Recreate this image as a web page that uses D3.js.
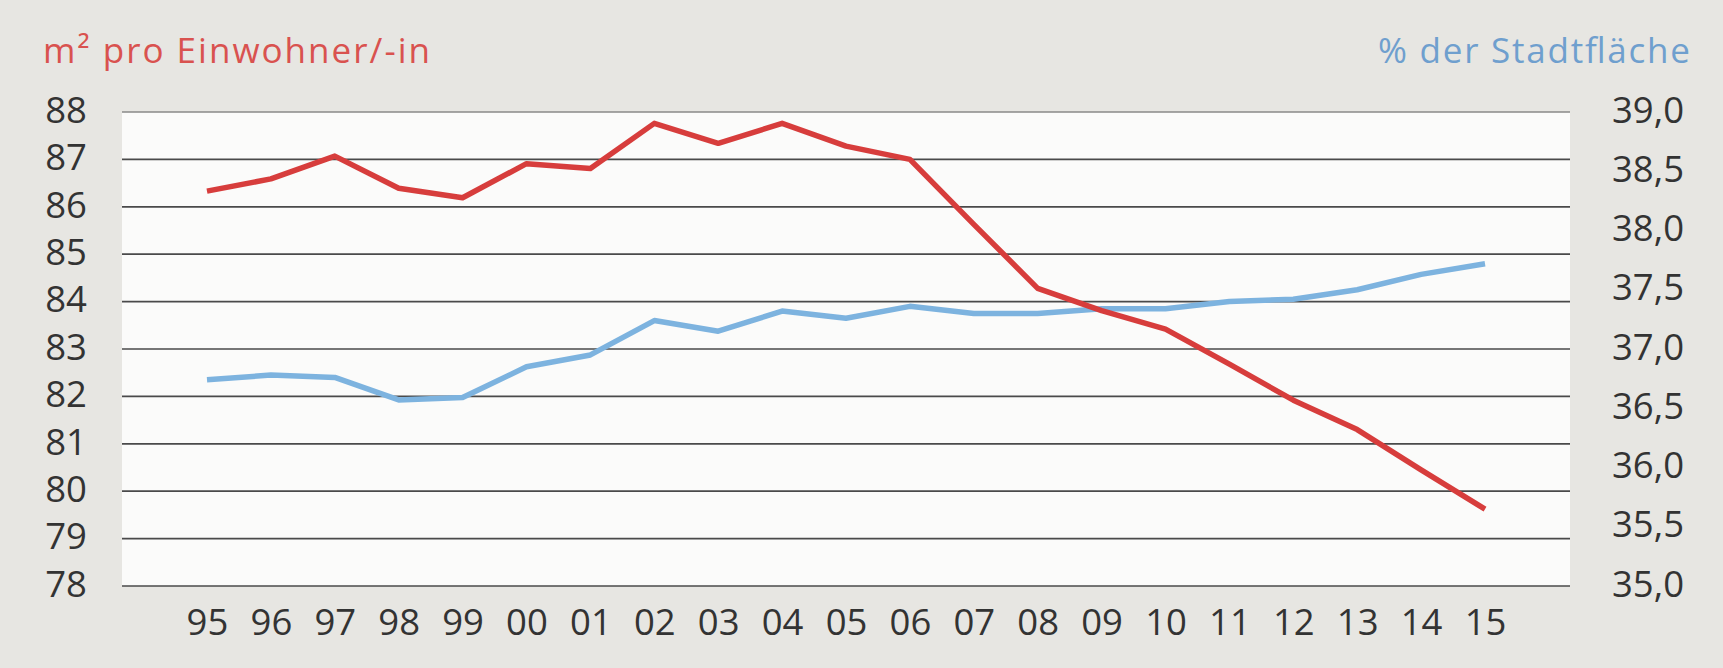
<!DOCTYPE html>
<html><head><meta charset="utf-8">
<script src="https://cdn.jsdelivr.net/npm/d3@7"></script>
<style>
html,body{margin:0;padding:0;background:#e7e6e2;}
svg{display:block;}
text{font-family:"Open Sans",sans-serif;}
</style></head>
<body><div id="chart"></div>
<script>
const years = ["95","96","97","98","99","00","01","02","03","04","05","06","07","08","09","10","11","12","13","14","15"];
const m2PerResident = [86.33,86.59,87.07,86.39,86.19,86.91,86.81,87.76,87.34,87.76,87.28,87.0,85.63,84.28,83.81,83.42,82.68,81.92,81.3,80.45,79.62];
const pctCityArea = [36.74,36.78,36.76,36.57,36.59,36.85,36.95,37.24,37.15,37.32,37.26,37.36,37.30,37.30,37.34,37.34,37.40,37.42,37.50,37.63,37.72];
const leftTicks = [78,79,80,81,82,83,84,85,86,87,88];
const rightTicks = [35.0,35.5,36.0,36.5,37.0,37.5,38.0,38.5,39.0];
const leftTitle = "m² pro Einwohner/-in";
const rightTitle = "% der Stadtfläche";

const W = 1723, H = 668;
const plot = {left:122, right:1570, top:112, bottom:586};
const tickFont = 36.5;

const svg = d3.select("#chart").append("svg").attr("width",W).attr("height",H);
svg.append("rect").attr("width",W).attr("height",H).attr("fill","#e7e6e2");
svg.append("rect").attr("x",plot.left).attr("y",plot.top)
  .attr("width",plot.right-plot.left).attr("height",plot.bottom-plot.top).attr("fill","#fbfbfa");

const x = d3.scalePoint().domain(years).range([plot.left,plot.right]).padding(1.33);
const yL = d3.scaleLinear().domain([78,88]).range([plot.bottom,plot.top]);
const yR = d3.scaleLinear().domain([35,39]).range([plot.bottom,plot.top]);

// gridlines
svg.append("g").selectAll("line").data(leftTicks).join("line")
  .attr("x1",plot.left).attr("x2",plot.right)
  .attr("y1",d=>yL(d)).attr("y2",d=>yL(d))
  .attr("stroke",d=>d===88?"#8a8a88":"#4a4a4a").attr("stroke-width",1.7);

// left axis
const axL = svg.append("g").attr("transform",`translate(${plot.left-35},0)`)
  .call(d3.axisLeft(yL).tickValues(leftTicks).tickSize(0).tickPadding(0).tickFormat(d3.format("d")));
axL.select(".domain").remove();
axL.selectAll("text").attr("font-size",tickFont).attr("fill","#333").attr("font-family","'Open Sans',sans-serif").attr("dy","0.28em");

// right axis
const fmtR = d => d.toFixed(1).replace(".",",");
const axR = svg.append("g").attr("transform",`translate(${plot.right+42},0)`)
  .call(d3.axisRight(yR).tickValues(rightTicks).tickSize(0).tickPadding(0).tickFormat(fmtR));
axR.select(".domain").remove();
axR.selectAll("text").attr("font-size",tickFont).attr("fill","#333").attr("font-family","'Open Sans',sans-serif").attr("dy","0.28em");

// x axis
const axX = svg.append("g").attr("transform",`translate(0,${plot.bottom+21})`)
  .call(d3.axisBottom(x).tickSize(0).tickPadding(0));
axX.select(".domain").remove();
axX.selectAll("text").attr("font-size",tickFont).attr("fill","#333").attr("font-family","'Open Sans',sans-serif").attr("dy","0.76em");

// lines
const lineL = d3.line().x((d,i)=>x(years[i])).y(d=>yL(d));
const lineR = d3.line().x((d,i)=>x(years[i])).y(d=>yR(d));
svg.append("path").datum(pctCityArea).attr("d",lineR).attr("fill","none")
  .attr("stroke","#7db3df").attr("stroke-width",5.5).attr("stroke-linejoin","round");
svg.append("path").datum(m2PerResident).attr("d",lineL).attr("fill","none")
  .attr("stroke","#d73d3c").attr("stroke-width",5.5).attr("stroke-linejoin","round");

// titles
svg.append("text").attr("x",43).attr("y",63).text(leftTitle)
  .attr("font-size",35).attr("fill","#d9524f")
  .attr("textLength",387).attr("lengthAdjust","spacing");
svg.append("text").attr("x",1378).attr("y",63).text(rightTitle)
  .attr("font-size",35).attr("fill","#6f9fce")
  .attr("textLength",312).attr("lengthAdjust","spacing");
</script></body></html>
